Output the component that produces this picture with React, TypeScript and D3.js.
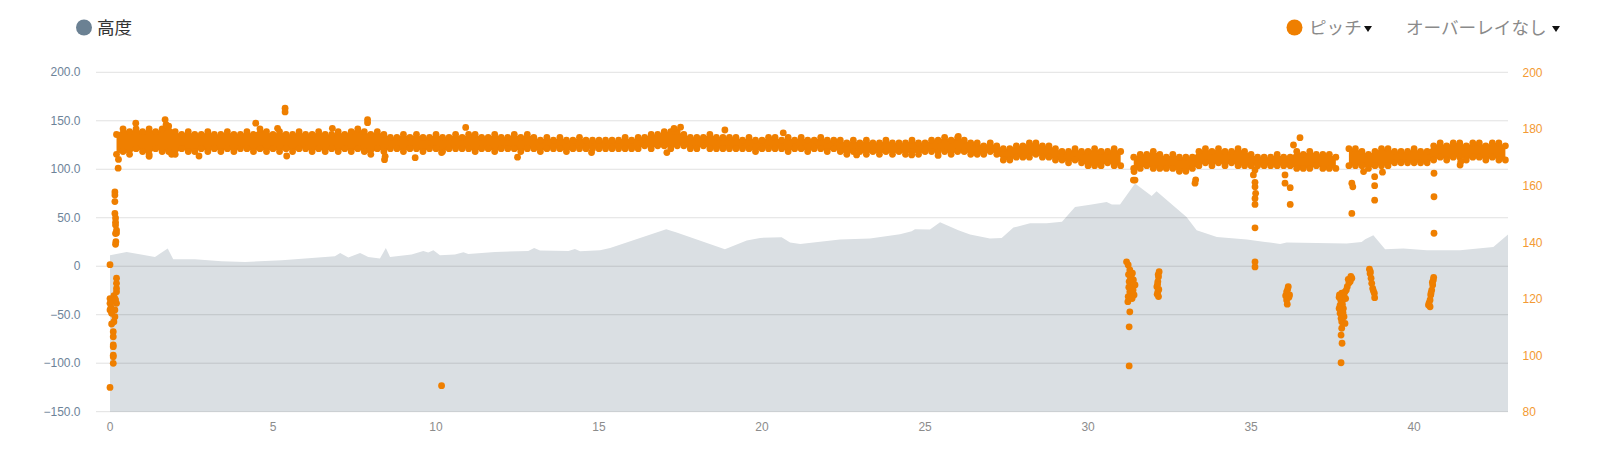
import * as d3 from "d3";

const WIDTH = 1600;
const HEIGHT = 450;
const PLOT = { left: 110, right: 1508, top: 72.3, bottom: 411.7, gridLeft: 96 };
const ORANGE = "#ef7f00";
const AREA_FILL = "#dadfe3";
const AXIS_FONT = "'Liberation Sans', Arial, sans-serif";
const CJK_FONT = "'Noto Sans CJK JP', 'Noto Sans', sans-serif";

// elevation profile (km, m)
const elevKm = [
  0, 0.51, 1.38, 1.77, 1.94, 2.6, 3.42, 4.14, 5.27, 6.19, 6.9, 7.06, 7.31, 7.67, 7.92, 8.28, 8.46, 8.59, 9.25, 9.61,
  9.76, 9.92, 10.12, 10.58, 10.84, 10.99, 11.81, 12.83, 13.01, 13.19, 14.06, 14.26, 14.42, 15.03, 15.34, 16.67, 17.06,
  17.38, 18.86, 19.53, 19.94, 20.6, 20.86, 21.17, 22.39, 23.31, 24.23, 24.59, 24.69, 25.15, 25.46, 26.02, 26.38, 26.99,
  27.35, 27.71, 28.22, 28.73, 29.2, 29.6, 30.11, 30.57, 30.73, 30.98, 31.44, 31.95, 32.1, 33.02, 33.33, 33.95, 34.87,
  35.43, 35.89, 36.09, 37.93, 38.39, 38.5, 38.75, 39.11, 39.67, 40.39, 41.41, 42.43, 42.88,
];
const elevValue = [
  11.3, 14.7, 9.6, 18.2, 7.2, 7.2, 5.2, 4.5, 6.2, 8.6, 10.3, 13.7, 9, 13.7, 9.6, 7.9, 18.9, 9.6, 12, 15.8, 14.1, 16.5,
  11.3, 12, 14.4, 12.7, 14.7, 15.8, 18.9, 16.2, 15.8, 17.8, 15.5, 16.5, 18.9, 33.7, 38.2, 34.7, 17.5, 26.5, 29.2, 29.9,
  24.4, 23, 27.5, 28.5, 33, 36, 38.2, 37.8, 45.4, 37.1, 32.7, 28.5, 29.2, 39.9, 44.3, 44.3, 46, 61.2, 63.6, 66.3, 63.6,
  63.6, 85.3, 72.5, 77.3, 50.9, 37.1, 30.2, 27.5, 25.1, 23, 24.4, 23.4, 25.1, 27.8, 32, 17.5, 18.2, 16.5, 16.5, 19.9,
  32.7,
];

// pitch band (spm), sampled every 0.2 km from 0.2 km; null = gap
const BAND_START_KM = 0.2;
const BAND_STEP_KM = 0.2;
const pitchHigh: (number | null)[] = [
  178, 180, 179, 180, 179, 180, 179, 180, 181, 179, 178, 179, 178, 178, 179, 178, 178, 179, 178, 178, 179, 178, 180, 179,
  178, 179, 178, 178, 179, 178, 178, 179, 178, 178, 179, 178, 179, 180, 179, 178, 179, 178, 177, 177, 178, 177, 178, 177,
  177, 178, 177, 177, 178, 177, 178, 178, 177, 177, 178, 177, 177, 178, 177, 178, 177, 176, 177, 176, 177, 176, 176, 177,
  176, 176, 176, 176, 176, 176, 177, 176, 177, 177, 178, 178, 179, 179, 179, 178, 177, 177, 177, 178, 177, 177, 177, 177,
  176, 177, 176, 176, 177, 177, 176, 177, 176, 177, 176, 176, 177, 176, 176, 176, 175, 176, 175, 176, 175, 175, 176, 175,
  175, 175, 176, 175, 175, 176, 176, 177, 176, 177, 176, 175, 175, 174, 175, 174, 173, 173, 174, 174, 175, 175, 174, 174,
  173, 172, 172, 173, 172, 172, 173, 172, 172, 173, 172, null, 170, 171, 171, 172, 171, 170, 171, 170, 170, 170, 172, 173,
  172, 173, 172, 172, 173, 172, 171, 170, 170, 170, 171, 170, 170, 172, 171, 172, 171, 171, 171, 170, null, 173, 173, 172,
  171, 172, 173, 173, 172, 172, 172, 173, 172, 172, 174, 175, 174, 175, 175, 174, 175, 175, 174, 175, 175, 174,
];
const pitchLow: (number | null)[] = [
  171, 172, 171, 173, 172, 171, 173, 172, 172, 171, 173, 172, 172, 173, 172, 173, 172, 173, 172, 173, 173, 172, 173, 172,
  173, 172, 173, 172, 173, 173, 172, 173, 172, 173, 172, 173, 172, 173, 172, 171, 173, 172, 173, 173, 172, 173, 173, 172,
  173, 173, 172, 173, 173, 173, 173, 172, 173, 173, 172, 173, 173, 173, 172, 173, 173, 172, 173, 173, 173, 172, 173, 173,
  173, 173, 173, 173, 173, 173, 173, 173, 173, 174, 173, 174, 174, 173, 174, 174, 173, 173, 174, 173, 173, 173, 173, 173,
  173, 173, 172, 173, 173, 173, 173, 172, 173, 173, 172, 173, 173, 172, 173, 172, 171, 172, 172, 171, 172, 171, 172, 171,
  172, 171, 172, 171, 172, 172, 172, 172, 171, 172, 172, 171, 171, 171, 172, 171, 169, 169, 170, 170, 170, 171, 170, 170,
  169, 169, 168, 169, 168, 167, 167, 167, 168, 167, 167, null, 166, 166, 167, 166, 166, 166, 166, 165, 165, 166, 167, 168,
  167, 168, 167, 168, 167, 167, 167, 167, 167, 167, 167, 167, 167, 166, 166, 166, 167, 166, 166, 166, null, 167, 167, 167,
  166, 167, 167, 167, 168, 168, 168, 168, 168, 168, 169, 170, 169, 170, 170, 169, 170, 170, 169, 170, 169, 169,
];

// isolated pitch readings off the band: [km, spm]
const pitchOutliers: [number, number][] = [
  // start
  [0, 132], [0, 120], [0, 118.3], [0, 116], [0, 88.6], [0.03, 117], [0.05, 111], [0.05, 114.8], [0.08, 119], [0.1, 108.3],
  [0.1, 106.5], [0.1, 103.6], [0.1, 103], [0.1, 100], [0.1, 99.4], [0.1, 97.1], [0.12, 111.8], [0.12, 121], [0.15, 113.6],
  [0.15, 120], [0.15, 116], [0.2, 118.3], [0.2, 122.4], [0.2, 123.6], [0.2, 125.4], [0.2, 127.2], [0.17, 119.5],
  [0.15, 157.7], [0.15, 156.6], [0.15, 154.3], [0.15, 150.1], [0.17, 148.5], [0.17, 147], [0.17, 146], [0.2, 144.2],
  [0.2, 143.2], [0.17, 143], [0.18, 140.1], [0.17, 139.2], [0.25, 166.1], [0.26, 169.2],
  // spikes around the band
  [0.79, 182], [1.2, 170.3], [1.69, 183.3], [1.72, 181.5], [1.89, 171], [2.73, 170.4], [4.47, 182], [5.14, 180.2],
  [5.37, 187.3], [5.37, 186], [5.42, 170.4], [6.82, 180.2], [7.9, 183.3], [7.9, 182.2], [8.42, 169.1], [8.44, 170.3],
  [9.36, 169.8], [10.17, 171.6], [10.17, 89.2], [10.91, 180.5], [12.5, 170], [14.77, 171.6], [17.08, 171.6],
  [17.3, 180.2], [17.5, 180.6], [18.86, 179.6], [20.65, 178.6], [22.9, 170.8], [24.59, 170.8], [25.4, 170.6],
  [26.02, 177.3],
  // 31 km
  [31.39, 161.9], [31.44, 161.9], [31.41, 164.9], [31.18, 133], [31.23, 131.9], [31.28, 130.1], [31.33, 128.3],
  [31.39, 126.6], [31.26, 126], [31.33, 124.2], [31.44, 124.8], [31.28, 122.4], [31.41, 121.3], [31.23, 120.7],
  [31.22, 118.9], [31.28, 115.3], [31.26, 110], [31.26, 96.2], [31.36, 129], [31.3, 127], [31.38, 123], [31.25, 124],
  [31.35, 120], [31.24, 128.5],
  // 32 km
  [32.18, 129.5], [32.16, 127.7], [32.14, 126], [32.11, 124.2], [32.14, 122.4], [32.16, 120.7], [32.15, 128.5],
  [32.13, 125], [32.17, 123.2], [32.12, 121.5],
  // 33-35 km
  [33.28, 160.8], [33.3, 162], [35.07, 163.7], [35.12, 165.5], [35.12, 161.1], [35.12, 159.5], [35.14, 157.2],
  [35.12, 155.4], [35.12, 153.3], [35.12, 145], [35.12, 133], [35.12, 131.2],
  // 36 km
  [36.04, 163.7], [36.04, 160.8], [36.2, 159.2], [36.2, 153.3], [36.14, 124.2], [36.09, 122.4], [36.18, 121.3],
  [36.09, 119.5], [36.11, 118], [36.12, 123.2], [36.16, 120.5], [36.06, 121], [36.3, 174.3], [36.5, 176.9],
  // 37.7-38.1 km
  [38.09, 160.8], [38.12, 159.5], [38.09, 150.1], [38.09, 127.2], [38.04, 126], [37.95, 124.2], [37.88, 122.4],
  [37.78, 121.9], [37.71, 121.3], [37.81, 119.5], [37.73, 117.7], [37.83, 116.5], [37.73, 114.8], [37.85, 113.6],
  [37.78, 111.8], [37.88, 111.2], [37.78, 109.5], [37.76, 107.1], [37.79, 104.2], [37.76, 97.3], [38.0, 125.5],
  [37.92, 123], [37.85, 121], [37.75, 119.5], [37.8, 118], [37.7, 116.5], [37.76, 113], [37.82, 115], [38.06, 127.8],
  [37.98, 126.8], [37.9, 120], [37.7, 120.5],
  // 38.4-38.8 km
  [38.45, 164.9], [38.79, 163.1], [38.79, 159.9], [38.79, 154.8], [38.63, 130.4], [38.65, 128.9], [38.68, 127.2],
  [38.7, 125.4], [38.73, 123.6], [38.78, 121.9], [38.79, 120.3], [38.66, 129.5], [38.75, 122.8], [39.03, 164.7],
  // 40.5 km
  [40.61, 164.3], [40.61, 156], [40.61, 143.1], [40.59, 126.6], [40.57, 124.8], [40.54, 123], [40.51, 121.3],
  [40.49, 119.5], [40.44, 117.7], [40.49, 117.1], [40.56, 125.8], [40.52, 122], [40.46, 118.5], [40.6, 127.5],
  [41.41, 167.2], [41.43, 168.4],
];

const leftTicks = [-150, -100, -50, 0, 50, 100, 150, 200];
const rightTicks = [80, 100, 120, 140, 160, 180, 200];
const xTicks = [0, 5, 10, 15, 20, 25, 30, 35, 40];

const x = d3.scaleLinear().domain([0, 42.88]).range([PLOT.left, PLOT.right]);
const yLeft = d3.scaleLinear().domain([-150, 200]).range([PLOT.bottom, PLOT.top]);
const yRight = d3.scaleLinear().domain([80, 200]).range([PLOT.bottom, PLOT.top]);

type Sample = { km: number; hi: number | null; lo: number | null };

function Caret({ cx, cy }: { cx: number; cy: number }) {
  const path = d3.path();
  path.moveTo(cx - 4, cy - 3);
  path.lineTo(cx + 4, cy - 3);
  path.lineTo(cx, cy + 3);
  path.closePath();
  return <path d={path.toString()} fill="#111" />;
}

export default function App() {
  const elevation = elevKm.map((km, i) => ({ km, value: elevValue[i] }));
  const band: Sample[] = pitchHigh.map((hi, i) => ({ km: BAND_START_KM + i * BAND_STEP_KM, hi, lo: pitchLow[i] }));

  const elevArea = d3
    .area<{ km: number; value: number }>()
    .x((d) => x(d.km))
    .y0(PLOT.bottom)
    .y1((d) => yLeft(d.value));

  const bandArea = d3
    .area<Sample>()
    .defined((d) => d.hi !== null && d.lo !== null)
    .x((d) => x(d.km))
    .y0((d) => yRight(d.lo as number))
    .y1((d) => yRight(d.hi as number));

  const fmtLeft = (v: number) => (v === 0 ? "0" : d3.format(".1f")(v));

  return (
    <svg
      width={WIDTH}
      height={HEIGHT}
      viewBox={`0 0 ${WIDTH} ${HEIGHT}`}
      style={{ position: "absolute", left: 0, top: 0, background: "#fff" }}
    >
      <rect x="0" y="0" width={WIDTH} height={HEIGHT} fill="#fff" />

      {/* legend */}
      <circle cx={84} cy={27.5} r={8} fill="#6b8193" />
      <text x={97} y={33.5} fontFamily={CJK_FONT} fontSize="17.6" fill="#333">
        高度
      </text>
      <circle cx={1294.5} cy={27.5} r={8} fill={ORANGE} />
      <text x={1309} y={33.5} fontFamily={CJK_FONT} fontSize="17.6" fill="#8a8a8a">
        ピッチ
      </text>
      <Caret cx={1368} cy={29} />
      <text x={1406} y={33.5} fontFamily={CJK_FONT} fontSize="17.6" fill="#8a8a8a">
        オーバーレイなし
      </text>
      <Caret cx={1556} cy={29} />

      {/* elevation area */}
      <path d={elevArea(elevation) ?? undefined} fill={AREA_FILL} />

      {/* grid */}
      {leftTicks.map((t) => (
        <line key={t} x1={PLOT.gridLeft} x2={PLOT.right} y1={yLeft(t)} y2={yLeft(t)} stroke="rgba(0,0,0,0.12)" strokeWidth="1" />
      ))}

      {/* pitch band */}
      <path d={bandArea(band) ?? undefined} fill={ORANGE} />
      {band.map((d, i) =>
        d.hi === null || d.lo === null ? null : (
          <g key={i}>
            <circle cx={x(d.km)} cy={yRight(d.hi)} r={3.4} fill={ORANGE} />
            <circle cx={x(d.km)} cy={yRight(d.lo)} r={3.4} fill={ORANGE} />
          </g>
        )
      )}
      {pitchOutliers.map(([km, v], i) => (
        <circle key={`o${i}`} cx={x(km)} cy={yRight(v)} r={3.4} fill={ORANGE} />
      ))}

      {/* left axis */}
      {leftTicks.map((t) => (
        <text key={t} x={80.5} y={yLeft(t) + 4} textAnchor="end" fontFamily={AXIS_FONT} fontSize="12" fill="#6d8399">
          {fmtLeft(t)}
        </text>
      ))}

      {/* right axis */}
      {rightTicks.map((t) => (
        <text key={t} x={1522.5} y={yRight(t) + 4.5} fontFamily={AXIS_FONT} fontSize="12" fill="#f39a33">
          {t}
        </text>
      ))}

      {/* x axis */}
      {xTicks.map((t) => (
        <text key={t} x={x(t)} y={431} textAnchor="middle" fontFamily={AXIS_FONT} fontSize="12" fill="#8c8c8c">
          {t}
        </text>
      ))}
    </svg>
  );
}
